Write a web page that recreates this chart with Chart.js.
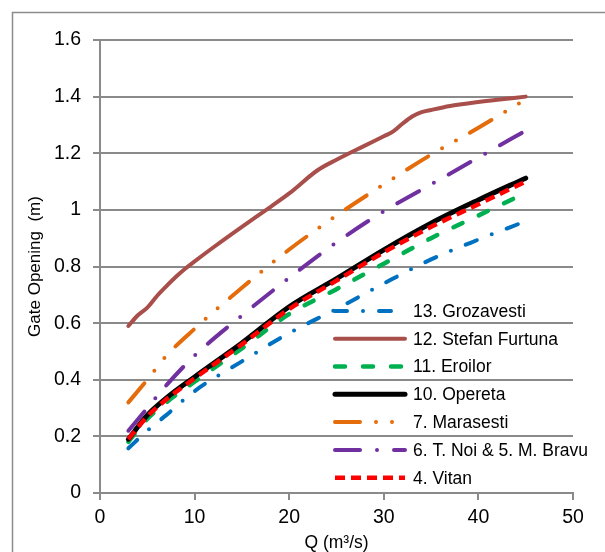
<!DOCTYPE html>
<html>
<head>
<meta charset="utf-8">
<script src="https://cdn.jsdelivr.net/npm/chart.js@4"></script>
<style>
  html, body { margin: 0; padding: 0; background: #fff; }
  canvas { display: block; }
</style>
</head>
<body>
<canvas id="gateChart" width="605" height="552"></canvas>
<script>
  // Discharge values (m3/s) shared by most gates
  const qValues = [3, 5, 7, 10, 15, 20, 25, 30, 35, 40, 45];
  // Stefan Furtuna curve is read on a finer grid (it bends near 33)
  const qStefan = [3, 4, 5, 6, 7, 8, 9, 10, 12, 15, 18, 20, 23, 25, 28, 30, 31, 32, 33, 34, 35, 37, 40, 42, 45];

  // Gate openings (m)
  const grozavesti = [0.158, 0.22, 0.275, 0.36, 0.465, 0.565, 0.65, 0.74, 0.825, 0.895, 0.96];
  const stefanFurtuna = [0.59, 0.628, 0.655, 0.695, 0.73, 0.763, 0.792, 0.818, 0.868, 0.94, 1.01, 1.058, 1.14, 1.177, 1.227, 1.26, 1.277, 1.305, 1.33, 1.345, 1.353, 1.367, 1.381, 1.389, 1.40];
  const eroilor = [0.181, 0.262, 0.32, 0.393, 0.511, 0.632, 0.72, 0.81, 0.90, 0.98, 1.06];
  const opereta = [0.19, 0.275, 0.335, 0.41, 0.53, 0.658, 0.757, 0.859, 0.953, 1.035, 1.112];
  const marasesti = [0.32, 0.40, 0.484, 0.58, 0.725, 0.86, 0.98, 1.09, 1.195, 1.29, 1.39];
  const tNoiMBravu = [0.22, 0.30, 0.38, 0.485, 0.627, 0.76, 0.885, 0.995, 1.09, 1.185, 1.28];
  const vitan = [0.19, 0.27, 0.33, 0.405, 0.525, 0.65, 0.75, 0.85, 0.94, 1.02, 1.10];

  const seriesLabels = ['13. Grozavesti', '12. Stefan Furtuna', '11. Eroilor', '10. Opereta',
    '7. Marasesti', '6. T. Noi & 5. M. Bravu', '4. Vitan'];
  const yTicks = [0, 0.2, 0.4, 0.6, 0.8, 1, 1.2, 1.4, 1.6];
  const xTicks = [0, 10, 20, 30, 40, 50];

  const FONT = '"Liberation Sans", Arial, sans-serif';
  const GRID = '#8a8a8a';

  function toPoints(xs, ys) {
    return ys.map((y, i) => ({ x: xs[i], y: y }));
  }

  function makeSet(i, xs, ys, color, width, dash, cap) {
    return {
      label: seriesLabels[i],
      data: toPoints(xs, ys),
      borderColor: color,
      backgroundColor: color,
      borderWidth: width,
      borderDash: dash,
      borderCapStyle: cap || 'round',
      borderJoinStyle: 'round',
      pointRadius: 0,
      fill: false,
      cubicInterpolationMode: 'monotone',
      order: seriesLabels.length - i   // later series drawn on top
    };
  }

  const datasets = [
    makeSet(0, qValues, grozavesti, '#0070c0', 4, [12, 16, 0, 16]),
    makeSet(1, qStefan, stefanFurtuna, '#a94f4b', 4, []),
    makeSet(2, qValues, eroilor, '#00b050', 4.5, [10, 18]),
    makeSet(3, qValues, opereta, '#000000', 5, []),
    makeSet(4, qValues, marasesti, '#e46c0a', 4, [25, 16, 0, 16, 0, 16]),
    makeSet(5, qValues, tNoiMBravu, '#7030a0', 4, [25, 17, 0, 17]),
    makeSet(6, qValues, vitan, '#ff0000', 4.5, [10, 6], 'butt')
  ];

  // Outer frame of the chart picture
  const framePlugin = {
    id: 'frame',
    beforeDraw(chart) {
      const ctx = chart.ctx;
      ctx.save();
      ctx.strokeStyle = '#8c8c8c';
      ctx.lineWidth = 1.5;
      ctx.strokeRect(12.5, 12.5, 800, 800);
      ctx.restore();
    }
  };

  // Legend drawn inside the plot area, lower right
  const insideLegend = {
    id: 'insideLegend',
    afterDatasetsDraw(chart) {
      const ctx = chart.ctx;
      const area = chart.chartArea;
      const rowH = 27.8;
      const x0 = area.right - 238;
      const x1 = x0 + 70;
      const yLast = area.bottom - 15.3;
      const sets = chart.data.datasets;
      ctx.save();
      sets.forEach((ds, i) => {
        const y = yLast - (sets.length - 1 - i) * rowH;
        ctx.beginPath();
        ctx.strokeStyle = ds.borderColor;
        ctx.lineWidth = ds.borderWidth;
        ctx.lineCap = ds.borderCapStyle;
        ctx.setLineDash(ds.borderDash);
        ctx.moveTo(x0, y);
        ctx.lineTo(x1, y);
        ctx.stroke();
        ctx.setLineDash([]);
        ctx.fillStyle = '#000';
        ctx.font = '17.5px ' + FONT;
        ctx.textBaseline = 'middle';
        ctx.textAlign = 'left';
        ctx.fillText(ds.label, x1 + 8, y + 1);
      });
      ctx.restore();
    }
  };

  new Chart(document.getElementById('gateChart'), {
    type: 'line',
    data: { datasets: datasets },
    options: {
      responsive: false,
      animation: false,
      devicePixelRatio: 1,
      layout: { padding: { left: 12, top: 40, right: 32, bottom: 0 } },
      plugins: {
        legend: { display: false },
        tooltip: { enabled: false }
      },
      scales: {
        x: {
          type: 'linear',
          min: 0,
          max: 50,
          afterBuildTicks: (axis) => { axis.ticks = xTicks.map((v) => ({ value: v })); },
          afterFit: (axis) => { axis.height = 59; },
          grid: { drawOnChartArea: false, drawTicks: true, tickLength: 7, color: GRID, lineWidth: 2 },
          border: { display: true, color: GRID, width: 2 },
          ticks: { color: '#000', padding: 6, maxRotation: 0, font: { family: FONT, size: 19.5 } },
          title: {
            display: true,
            text: 'Q (m³/s)',
            color: '#000',
            font: { family: FONT, size: 17.5, lineHeight: 1 },
            padding: { top: 0, bottom: 0 }
          }
        },
        y: {
          type: 'linear',
          min: 0,
          max: 1.6,
          afterBuildTicks: (axis) => { axis.ticks = yTicks.map((v) => ({ value: v })); },
          afterFit: (axis) => { axis.width = 88; },
          grid: { drawOnChartArea: true, drawTicks: true, tickLength: 7, color: GRID, lineWidth: 2 },
          border: { display: true, color: GRID, width: 2 },
          ticks: {
            color: '#000',
            padding: 12,
            font: { family: FONT, size: 19.5 },
            callback: (v) => String(Number(v.toFixed(1)))
          },
          title: {
            display: true,
            text: 'Gate Opening  (m)',
            color: '#000',
            font: { family: FONT, size: 17, lineHeight: 1.2 },
            padding: { top: 13, bottom: 0 }
          }
        }
      }
    },
    plugins: [framePlugin, insideLegend]
  });
</script>
</body>
</html>
